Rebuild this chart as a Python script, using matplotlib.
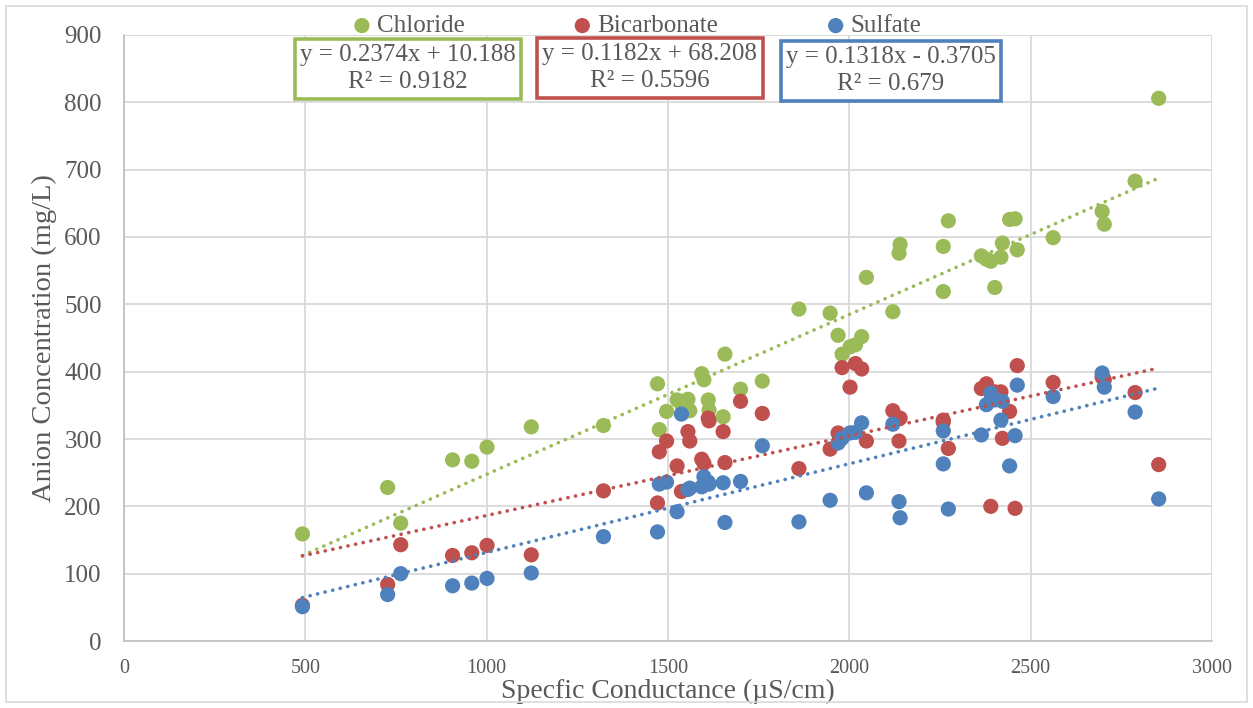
import matplotlib
matplotlib.use("Agg")
import matplotlib.pyplot as plt
from matplotlib.patches import Rectangle
import numpy as np

# ---------------- data ----------------
conductance = [492, 727, 763, 906, 959, 1001, 1123, 1322, 1471, 1476, 1496,
               1525, 1537, 1555, 1560, 1593, 1599, 1611, 1613, 1652, 1657,
               1700, 1760, 1861, 1947, 1969, 1980, 2002, 2017, 2034, 2047,
               2120, 2137, 2140, 2259, 2259, 2273, 2364, 2378, 2390, 2401,
               2418, 2422, 2442, 2457, 2463, 2562, 2697, 2703, 2788, 2853]
chloride = [159, 228, 175, 269, 267, 288, 318, 320, 382, 314, 341,
            358, 352, 359, 342, 397, 388, 358, 343, 333, 426,
            374, 386, 493, 487, 454, 426, 437, 440, 452, 540,
            489, 576, 589, 586, 519, 624, 572, 567, 564, 525,
            570, 591, 626, 627, 581, 599, 638, 619, 683, 806]
bicarbonate = [53, 84, 143, 127, 131, 142, 128, 223, 205, 281, 297,
               260, 222, 311, 297, 270, 264, 331, 327, 311, 265,
               356, 338, 256, 285, 309, 406, 377, 412, 404, 297,
               342, 297, 331, 328, 325, 286, 375, 382, 200, 370,
               370, 301, 341, 197, 409, 384, 392, 388, 369, 262]
sulfate = [51, 69, 100, 82, 86, 93, 101, 155, 162, 233, 236,
           192, 337, 225, 227, 229, 244, 236, 233, 235, 176,
           237, 290, 177, 209, 294, 301, 309, 310, 324, 220,
           322, 207, 183, 312, 263, 196, 306, 351, 368, 358,
           328, 356, 260, 305, 380, 363, 398, 377, 340, 211]

series_names = ["Chloride", "Bicarbonate", "Sulfate"]
series_colors = ["#9BBB59", "#C0504D", "#4F81BD"]
trend_slope = [0.2374, 0.1182, 0.1318]
trend_intercept = [10.188, 68.208, -0.3705]
trend_r2 = ["0.9182", "0.5596", "0.679"]
trend_eq = ["y = 0.2374x + 10.188", "y = 0.1182x + 68.208", "y = 0.1318x - 0.3705"]

x_ticks = [0, 500, 1000, 1500, 2000, 2500, 3000]
y_ticks = [0, 100, 200, 300, 400, 500, 600, 700, 800, 900]

# ---------------- figure ----------------
W, H = 1253, 708
fig = plt.figure(figsize=(W / 100, H / 100), dpi=100)
ax = fig.add_axes([124 / W, (H - 641) / H, (1212 - 124) / W, (641 - 35) / H])

serif = ["Liberation Serif", "DejaVu Serif"]
tick_color = "#595959"
grid_color = "#D9D9D9"

x = np.array(conductance)
for vals, name, col in zip([chloride, bicarbonate, sulfate], series_names, series_colors):
    ax.scatter(x, vals, s=120, color=col, edgecolors="none", label=name, zorder=3)

xs = np.array([x.min(), x.max()])
for m, b, col in zip(trend_slope, trend_intercept, series_colors):
    ax.plot(xs, m * xs + b, color=col, lw=2.6, linestyle=(0, (0.05, 2.1)),
            dash_capstyle="round", zorder=4)

ax.set_xlim(0, 3000)
ax.set_ylim(0, 900)
ax.set_xticks(x_ticks)
ax.set_yticks(y_ticks)
ax.grid(True, color=grid_color, lw=1.3)
ax.set_axisbelow(True)
for s in ["top", "right"]:
    ax.spines[s].set_visible(False)
for s in ["left", "bottom"]:
    ax.spines[s].set_color("#BFBFBF")
    ax.spines[s].set_linewidth(1.2)
ax.tick_params(length=0, colors=tick_color)
for lab in ax.get_xticklabels():
    lab.set_fontfamily(serif)
    lab.set_fontsize(14.5)
for lab in ax.get_yticklabels():
    lab.set_fontfamily(serif)
    lab.set_fontsize(18)
ax.tick_params(axis="x", pad=13)
ax.tick_params(axis="y", pad=16)

ax.set_xlabel("Specfic Conductance (µS/cm)", fontsize=20, color=tick_color,
              family=serif, labelpad=0.5)
ax.set_ylabel("Anion Concentration (mg/L)", fontsize=20.5, color=tick_color,
              family=serif, labelpad=5)

leg = ax.legend(loc="center", bbox_to_anchor=(0.4724, 1.015), ncol=3,
                frameon=False, prop={"family": serif, "size": 18},
                handlelength=0.6, handletextpad=0.3, columnspacing=4.4,
                borderaxespad=0, borderpad=0, scatterpoints=1, markerscale=1.0)
for t in leg.get_texts():
    t.set_color(tick_color)

box_pos = [(783, 850), (1450, 851.5), (2115, 847)]
for (bx, by), eq, r2, col in zip(box_pos, trend_eq, trend_r2, series_colors):
    ax.text(bx, by, eq + "\n" + "R² = " + r2, ha="center", va="center",
            multialignment="center", fontsize=18, color=tick_color,
            family=serif, linespacing=1.3,
            bbox=dict(boxstyle="square,pad=0.22", fc="white", ec=col, lw=2.6),
            zorder=6)

fig.patches.append(Rectangle((6 / W, 6 / H), 1 - 12 / W, 1 - 12 / H,
                             transform=fig.transFigure, fill=False,
                             ec="#D9D9D9", lw=1.2))

fig.savefig("out.png", dpi=100)
